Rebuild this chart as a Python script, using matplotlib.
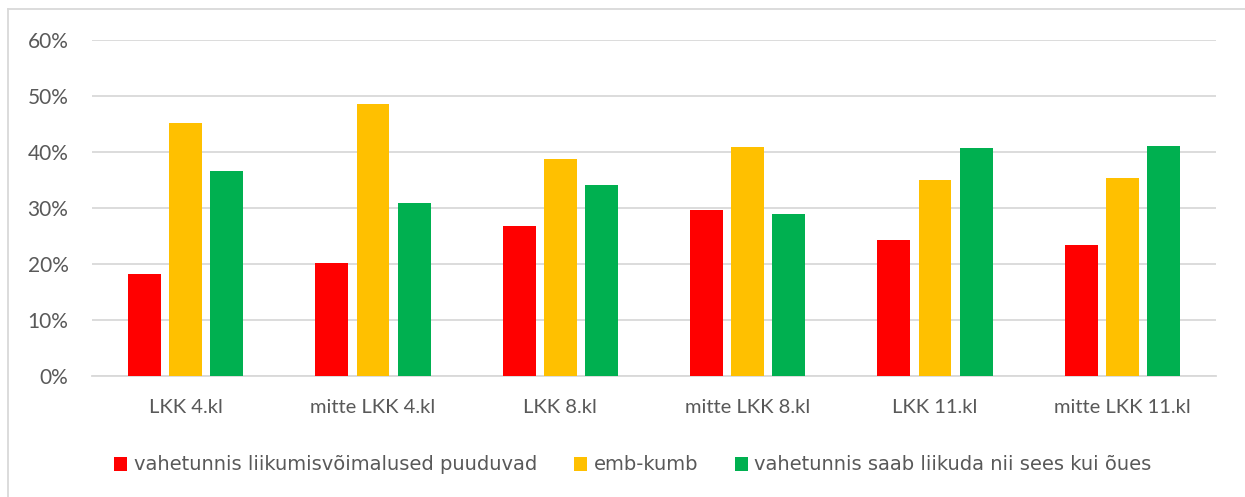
import numpy as np
import matplotlib.pyplot as plt
from matplotlib.lines import Line2D
from matplotlib.ticker import PercentFormatter

plt.rcParams['font.family'] = ['Lato', 'DejaVu Sans']

# Data
categories = ["LKK 4.kl", "mitte LKK 4.kl", "LKK 8.kl", "mitte LKK 8.kl", "LKK 11.kl", "mitte LKK 11.kl"]
series_names = ["vahetunnis liikumisvõimalused puuduvad", "emb-kumb",
                "vahetunnis saab liikuda nii sees kui õues"]
puuduvad = [18.2, 20.2, 26.8, 29.7, 24.3, 23.4]
emb_kumb = [45.1, 48.5, 38.7, 40.9, 34.9, 35.3]
sees_oues = [36.6, 30.9, 34.1, 29.0, 40.7, 41.0]
colors = ["#FF0000", "#FFC000", "#00B050"]

text_color = "#595959"
grid_color = "#D9D9D9"

fig = plt.figure(figsize=(12.45, 4.97), dpi=100)
ax = fig.add_axes([92 / 1245, 1 - 376.3 / 497, (1216 - 92) / 1245, (376.3 - 39.6) / 497])

x = np.arange(len(categories))
width = 0.176
step = 0.219
for i, (vals, name, c) in enumerate(zip([puuduvad, emb_kumb, sees_oues], series_names, colors)):
    ax.bar(x + (i - 1) * step, vals, width, color=c, label=name, zorder=3)

ax.set_xlim(-0.5, len(categories) - 0.5)
ax.set_ylim(0, 60)
ax.set_yticks(range(0, 61, 10))
ax.yaxis.set_major_formatter(PercentFormatter(decimals=0))
ax.set_xticks(x)
ax.set_xticklabels(categories)
ax.grid(axis='y', color=grid_color, linewidth=1.3, zorder=0)
for s in ["top", "right", "left"]:
    ax.spines[s].set_visible(False)
ax.spines["bottom"].set_color(grid_color)
ax.spines["bottom"].set_linewidth(1.3)
ax.tick_params(axis='both', length=0, colors=text_color)
ax.tick_params(axis='y', pad=17, labelsize=15)
ax.tick_params(axis='x', pad=16, labelsize=14.5)

leg = fig.legend(loc='center', bbox_to_anchor=(633 / 1245, 1 - 465 / 497), ncol=3, frameon=False,
                 prop={'family': 'DejaVu Sans', 'size': 14}, handlelength=0.65, handleheight=0.75,
                 handletextpad=0.35, columnspacing=1.9, labelcolor=text_color)

# chart border (top and left visible in the original crop)
fig.add_artist(Line2D([8 / 1245, 1], [1 - 9 / 497, 1 - 9 / 497], color=grid_color, linewidth=1.3,
                      transform=fig.transFigure))
fig.add_artist(Line2D([8 / 1245, 8 / 1245], [0, 1 - 9 / 497], color=grid_color, linewidth=1.3,
                      transform=fig.transFigure))

fig.savefig("out.png", dpi=100, facecolor="white")
